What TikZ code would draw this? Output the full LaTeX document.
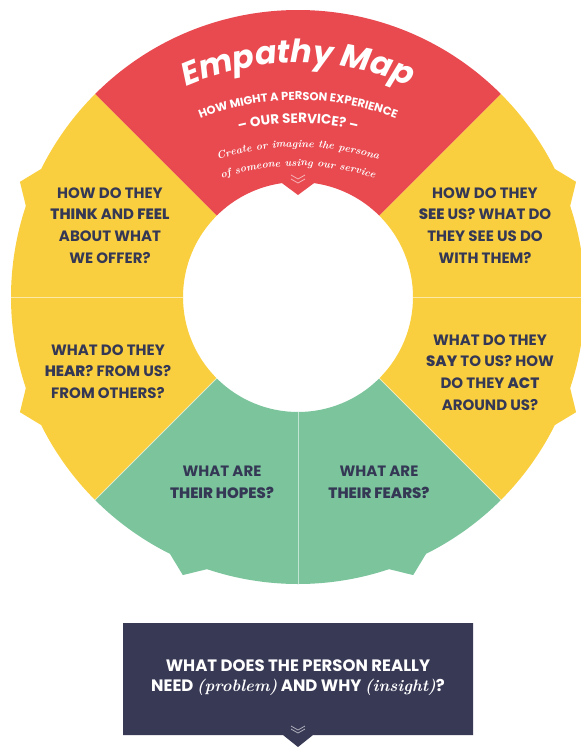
\documentclass[tikz,border=0pt]{standalone}
\usepackage{fontspec}
\setmainfont{Poppins}[UprightFont=* Bold, BoldFont=* ExtraBold]
\newfontfamily\titlefont{Poppins}
\newfontfamily\handfont{Latin Modern Roman}
\usetikzlibrary{decorations.text}

\definecolor{mapred}{HTML}{E84A50}
\definecolor{mapyellow}{HTML}{F9CF40}
\definecolor{mapgreen}{HTML}{7BC49C}
\definecolor{mapnavy}{HTML}{373955}
\definecolor{inknavy}{HTML}{353855}

% emphasised words inside a question
\newcommand\EmW[1]{{\bfseries #1}}
% handwritten aside
\newcommand\Aside[1]{{\handfont\bfseries\itshape #1}}

% a ring sector with an outward tooth in the middle of its outer rim
\newcommand\ToothSector[3]{%
  \pgfmathsetmacro\tsMid{(#2+#3)/2}%
  \pgfmathsetmacro\tsA{\tsMid-4}%
  \pgfmathsetmacro\tsB{\tsMid+4}%
  \fill[#1] (#2:115) -- (#2:287)
    arc[start angle=#2, end angle=\tsA, radius=287]
    -- (\tsMid:301) -- (\tsB:287)
    arc[start angle=\tsB, end angle=#3, radius=287]
    -- (#3:115) arc[start angle=#3, end angle=#2, radius=115] -- cycle;}

\begin{document}
\begin{tikzpicture}[x=1pt, y=1pt,
  question/.style={text=inknavy, align=center, inner sep=0pt,
    font=\fontsize{15}{21.7}\selectfont},
  divider/.style={white, opacity=.55, line width=1pt},
  chevron/.style={white, opacity=.6, line width=.8pt, line join=miter},
  arctext/.style={decorate, decoration={text along path, text align=center}}]

\useasboundingbox (0,0) rectangle (581,-747);
\clip (0,0) rectangle (581,-747);

% ---------------- the ring ----------------
\begin{scope}[shift={(298,-297)}]
  % top sector with an inward notch
  \fill[mapred] (45:287) arc[start angle=45, end angle=135, radius=287]
    -- (135:115) arc[start angle=135, end angle=98, radius=115]
    -- (90:102) -- (82:115) arc[start angle=82, end angle=45, radius=115] -- cycle;

  \ToothSector{mapyellow}{135}{180}
  \ToothSector{mapyellow}{180}{225}
  \ToothSector{mapgreen}{225}{270}
  \ToothSector{mapgreen}{270}{315}
  \ToothSector{mapyellow}{315}{360}
  \ToothSector{mapyellow}{0}{45}

  \foreach \a in {0,180,225,270,315}
    \draw[divider] (\a:115) -- (\a:287);

  % double chevron above the notch
  \draw[chevron] (-7,122) -- (0,118) -- (7,122);
  \draw[chevron] (-7,118) -- (0,114) -- (7,118);
\end{scope}

% ---------------- heading on arcs ----------------
\begin{scope}[shift={(298,-341)}]
  \path[arctext, decoration={text={|\titlefont\bfseries\itshape\fontsize{32}{32}\selectfont\color{white}|Empathy Map}}]
    (130:278) arc[start angle=130, end angle=50, radius=278];
\end{scope}
\begin{scope}[shift={(298,-367)}]
  \path[arctext, decoration={text={|\fontsize{11.5}{11.5}\selectfont\color{white}|HOW MIGHT A PERSON EXPERIENCE}}]
    (135:267) arc[start angle=135, end angle=45, radius=267];
  \path[arctext, decoration={text={|\fontsize{13.5}{13.5}\selectfont\color{white}|–  OUR SERVICE?  –}}]
    (135:244) arc[start angle=135, end angle=45, radius=244];
\end{scope}
\begin{scope}[shift={(298,-406)}]
  \path[arctext, decoration={text={|\handfont\bfseries\itshape\fontsize{10.5}{10.5}\selectfont\color{white}|Create or imagine the persona}}]
    (130:259) arc[start angle=130, end angle=50, radius=259];
  \path[arctext, decoration={text={|\handfont\bfseries\itshape\fontsize{10.5}{10.5}\selectfont\color{white}|of someone using our service}}]
    (130:240) arc[start angle=130, end angle=50, radius=240];
\end{scope}

% ---------------- questions ----------------
\node[question] (think) at (110,-225.5)
  {HOW DO THEY\\\EmW{THINK} AND \EmW{FEEL}\\ABOUT WHAT\\WE OFFER?};
\node[question] (see) at (485,-225.5)
  {HOW DO THEY\\\EmW{SEE} US? WHAT DO\\THEY SEE US DO\\WITH THEM?};
\node[question] (hear) at (108,-371.5)
  {WHAT DO THEY\\\EmW{HEAR}? FROM US?\\FROM OTHERS?};
\node[question] (say) at (490,-372.5)
  {WHAT DO THEY\\\EmW{SAY} TO US? HOW\\DO THEY \EmW{ACT}\\AROUND US?};
\node[question] (hopes) at (222,-482.5)
  {WHAT ARE\\\EmW{THEIR HOPES?}};
\node[question] (fears) at (379,-482.5)
  {WHAT ARE\\\EmW{THEIR FEARS?}};

% ---------------- closing question box ----------------
\fill[mapnavy] (123,-623) -- (473,-623) -- (473,-735) -- (313,-735)
  -- (298,-747) -- (283,-735) -- (123,-735) -- cycle;
\node[align=center, inner sep=0pt, text=white,
  font=\fontsize{16.5}{20}\selectfont] (need) at (298,-678)
  {WHAT DOES THE PERSON REALLY\\NEED \Aside{(problem)} AND WHY \Aside{(insight)}?};
\draw[chevron] (291,-726) -- (298,-730) -- (305,-726);
\draw[chevron] (291,-729) -- (298,-733) -- (305,-729);

\end{tikzpicture}
\end{document}
